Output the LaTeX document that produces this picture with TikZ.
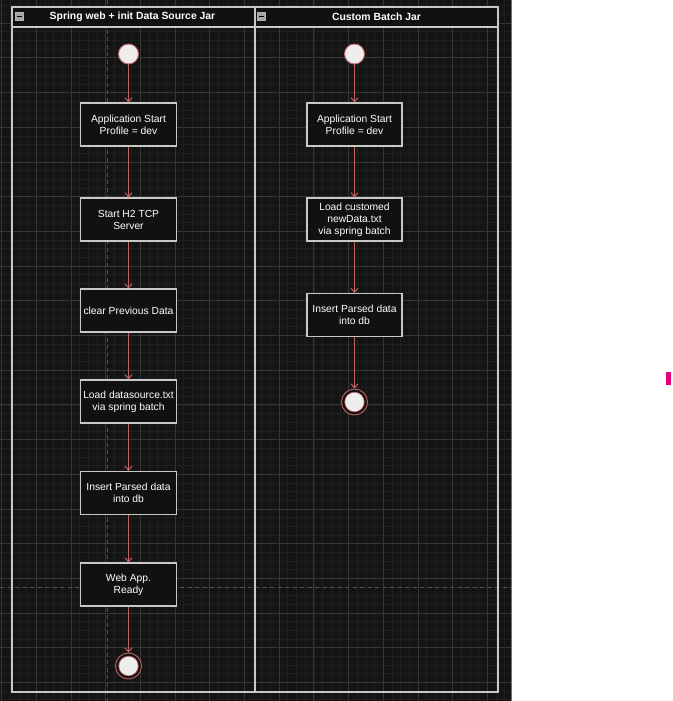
\documentclass[tikz,border=0pt]{standalone}
\usepackage{fontspec}
\setmainfont{Liberation Sans}
\usetikzlibrary{arrows.meta}
\definecolor{bg}{HTML}{141414}
\definecolor{gminor}{HTML}{1F1F1F}
\definecolor{gmajor}{HTML}{363636}
\definecolor{gdash}{HTML}{505050}
\definecolor{edge}{HTML}{C8C8C8}
\definecolor{flow}{HTML}{C06464}
\definecolor{boxfill}{HTML}{111111}
\definecolor{dotfill}{HTML}{EEEEEE}
\definecolor{magmark}{HTML}{E6007E}
\tikzset{
  actbox/.style={draw=edge, fill=boxfill, line width=1.1pt, minimum height=43pt,
    inner sep=0pt, align=center, text=white, font=\fontsize{10.3}{12}\selectfont},
  flowline/.style={draw=flow, line width=1pt, -{Straight Barb[length=4pt,width=7pt]}},
  startdot/.style={circle, draw=flow, fill=dotfill, line width=0.9pt, minimum size=20pt, inner sep=0pt},
  enddot/.style={circle, draw=flow, fill=boxfill, line width=0.9pt, minimum size=26pt, inner sep=0pt,
    path picture={\fill[flow] (path picture bounding box.center) circle (10.2pt);
                  \fill[dotfill] (path picture bounding box.center) circle (9.3pt);}},
  lanetitle/.style={text=white, font=\bfseries\fontsize{10.4}{12}\selectfont, inner sep=0pt},
  poolline/.style={draw=edge, line width=1.1pt},
  minusicon/.style={draw=gray!60, fill=gray!70, minimum size=8pt, inner sep=0pt},
  guide/.style={draw=gdash, line width=0.8pt, dash pattern=on 4pt off 3.5pt}
}
\begin{document}
\begin{tikzpicture}[x=1pt,y=-1pt]
\useasboundingbox (0,0) rectangle (672,701);
% dark canvas with grid
\fill[bg] (0,0) rectangle (511,701);
\begin{scope}
  \clip (0,0) rectangle (511,701);
  \foreach \i in {-3,...,58} {
    \draw[gminor, line width=0.6pt] ({487.3-8.675*\i},0) -- ({487.3-8.675*\i},701);
  }
  \foreach \i in {-15,...,67} {
    \draw[gminor, line width=0.6pt] (0,{578.3-8.675*\i}) -- (511,{578.3-8.675*\i});
  }
  \foreach \i in {-1,...,15} {
    \draw[gmajor, line width=0.7pt] ({487.3-34.7*\i},0) -- ({487.3-34.7*\i},701);
  }
  \foreach \i in {-4,...,17} {
    \draw[gmajor, line width=0.7pt] (0,{578.3-34.7*\i}) -- (511,{578.3-34.7*\i});
  }
  \draw[guide] (107.3,0) -- (107.3,701);
  \draw[guide] (0,587) -- (511,587);
\end{scope}
\draw[gmajor!70, line width=1pt] (511,0) -- (511,701);
% pool
\fill[boxfill] (12,7) rectangle (498,27);
\draw[poolline] (12,7) rectangle (498,692);
\draw[poolline] (12,27) -- (498,27);
\draw[poolline] (255,7) -- (255,692);
\node[minusicon] (ic1) at (19,16) {};
\draw[black, line width=0.9pt] (16.5,16) -- (21.5,16);
\node[minusicon] (ic2) at (261.5,16) {};
\draw[black, line width=0.9pt] (259,16) -- (264,16);
\node[lanetitle] (t1) at (132.5,16.5) {Spring web + init Data Source Jar};
\node[lanetitle] (t2) at (376.5,16.5) {Custom Batch Jar};
% lane 1
\node[startdot] (s1) at (128.5,54) {};
\node[actbox, minimum width=96pt] (a1) at (128.5,124.5) {Application Start\\Profile = dev};
\node[actbox, minimum width=96pt] (a2) at (128.5,219.5) {Start H2 TCP\\Server};
\node[actbox, minimum width=96pt] (a3) at (128.5,310.5) {clear Previous Data};
\node[actbox, minimum width=96pt] (a4) at (128.5,401.5) {Load datasource.txt\\via spring batch};
\node[actbox, minimum width=96pt] (a5) at (128.5,493) {Insert Parsed data\\into db};
\node[actbox, minimum width=96pt] (a6) at (128.5,584.5) {Web App.\\Ready};
\node[enddot] (e1) at (128.5,666) {};
\draw[flowline] (s1) -- (a1);
\draw[flowline] (a1) -- (a2);
\draw[flowline] (a2) -- (a3);
\draw[flowline] (a3) -- (a4);
\draw[flowline] (a4) -- (a5);
\draw[flowline] (a5) -- (a6);
\draw[flowline] (a6) -- (e1);
% lane 2
\node[startdot] (s2) at (354.5,54) {};
\node[actbox, minimum width=95pt] (b1) at (354.5,124.5) {Application Start\\Profile = dev};
\node[actbox, minimum width=95pt] (b2) at (354.5,219.5) {Load customed\\newData.txt\\via spring batch};
\node[actbox, minimum width=95pt] (b3) at (354.5,315) {Insert Parsed data\\into db};
\node[enddot] (e2) at (354.5,402) {};
\draw[flowline] (s2) -- (b1);
\draw[flowline] (b1) -- (b2);
\draw[flowline] (b2) -- (b3);
\draw[flowline] (b3) -- (e2);
% magenta mark
\fill[magmark] (666,372) rectangle (671,385);
\end{tikzpicture}
\end{document}
